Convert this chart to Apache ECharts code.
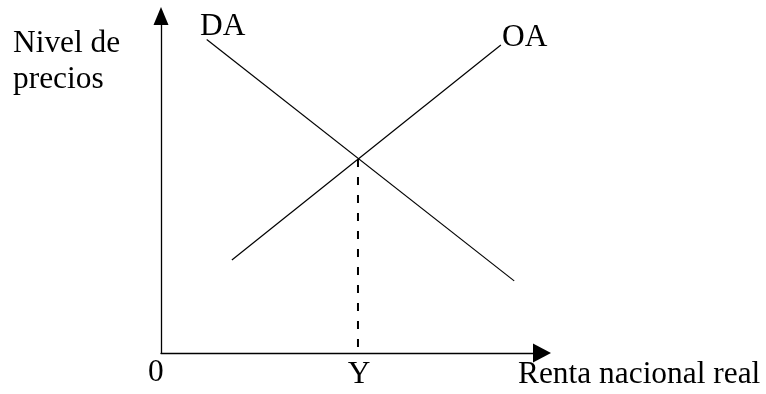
<!DOCTYPE html>
<html>
<head>
<meta charset="utf-8">
<script src="https://cdn.jsdelivr.net/npm/echarts@6/dist/echarts.min.js"></script>
<style>
  html, body { margin: 0; padding: 0; background: #fff; }
  #chart { width: 766px; height: 394px; }
</style>
</head>
<body>
<div id="chart"></div>
<script>
// curve end points (abstract units, 0-100 on both axes)
var daLine = [[12, 93], [92.7, 21.4]];
var oaLine = [[18.6, 27.6], [89.2, 91.4]];
var equilibrium = [51.7, 57.6];
var dropLine = [equilibrium, [equilibrium[0], 0]];

var curveNames = ['DA', 'OA'];
var yTitle = ['Nivel de', 'precios'];
var xTitle = 'Renta nacional real';
var xMarks = ['0', 'Y'];

var font = '31.4px "Liberation Serif", "Times New Roman", serif';

function txt(s, x, y, align) {
    return {
        type: 'text',
        x: x, y: y,
        style: {
            text: s,
            font: font,
            fill: '#000',
            align: align || 'left',
            verticalAlign: 'middle'
        }
    };
}

var chart = echarts.init(document.getElementById('chart'));
var option = {
    animation: false,
    grid: { left: 161, right: 224, top: 16, bottom: 41 },
    xAxis: {
        type: 'value', min: 0, max: 100,
        axisLine: {
            show: true,
            symbol: ['none', 'triangle'],
            symbolSize: [19, 18],
            lineStyle: { color: '#000', width: 1.3 }
        },
        axisTick: { show: false },
        axisLabel: { show: false },
        splitLine: { show: false }
    },
    yAxis: {
        type: 'value', min: 0, max: 100,
        axisLine: {
            show: true,
            symbol: ['none', 'triangle'],
            symbolSize: [15, 18],
            lineStyle: { color: '#000', width: 1.3 }
        },
        axisTick: { show: false },
        axisLabel: { show: false },
        splitLine: { show: false }
    },
    graphic: [
        txt(yTitle[0], 13, 44),
        txt(yTitle[1], 13, 80),
        txt(curveNames[0], 200, 27),
        txt(curveNames[1], 502, 38),
        txt(xMarks[0], 148, 373),
        txt(xMarks[1], 359, 375, 'center'),
        txt(xTitle, 518, 375)
    ],
    series: [
        {
            name: curveNames[0], type: 'line', data: daLine,
            symbol: 'none', lineStyle: { color: '#000', width: 1.2 }
        },
        {
            name: curveNames[1], type: 'line', data: oaLine,
            symbol: 'none', lineStyle: { color: '#000', width: 1.2 }
        },
        {
            name: 'Y', type: 'line', data: dropLine,
            symbol: 'none', lineStyle: { color: '#000', width: 2, type: [8, 10] }
        }
    ]
};
chart.setOption(option);
</script>
</body>
</html>
